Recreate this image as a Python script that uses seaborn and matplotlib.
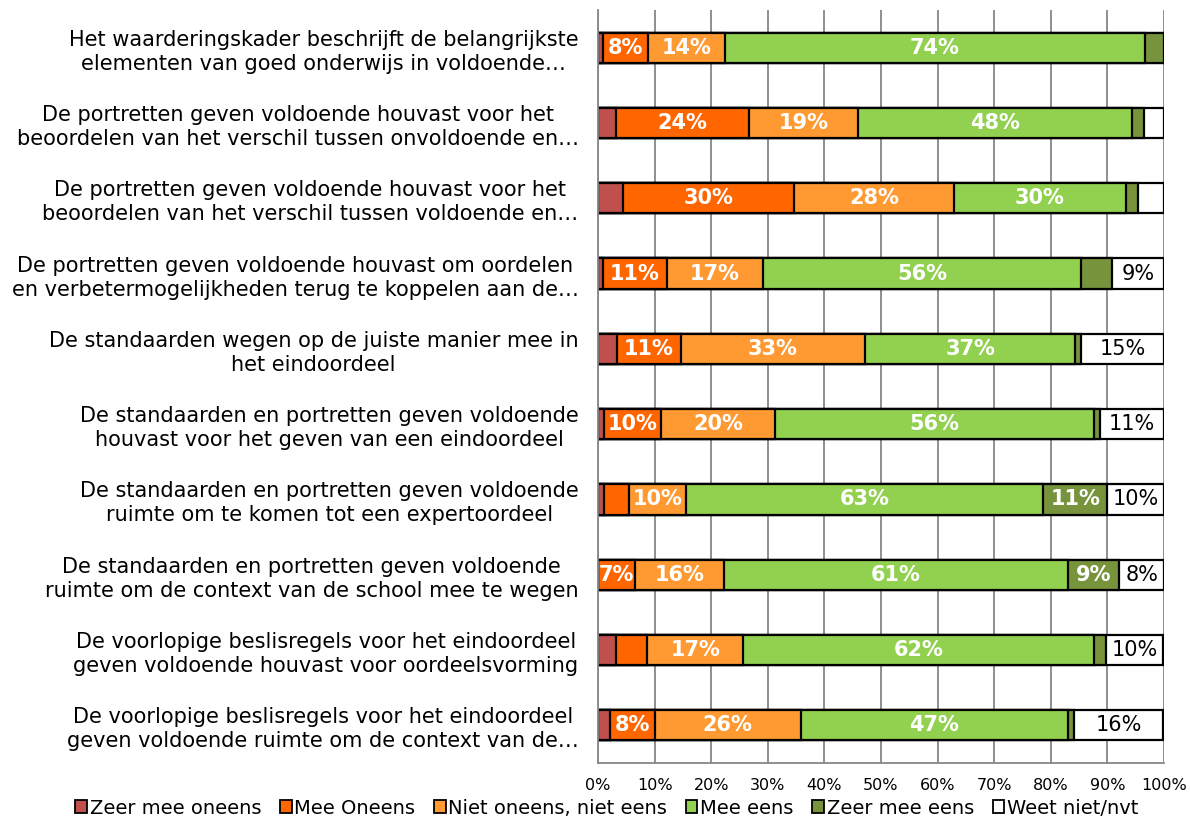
import numpy as np
import matplotlib
matplotlib.use("Agg")
import matplotlib.pyplot as plt
from matplotlib.patches import Patch
import seaborn as sns

# vragen (y-as)
vragen = [
    "Het waarderingskader beschrijft de belangrijkste\nelementen van goed onderwijs in voldoende…",
    "De portretten geven voldoende houvast voor het\nbeoordelen van het verschil tussen onvoldoende en…",
    "De portretten geven voldoende houvast voor het\nbeoordelen van het verschil tussen voldoende en…",
    "De portretten geven voldoende houvast om oordelen\nen verbetermogelijkheden terug te koppelen aan de…",
    "De standaarden wegen op de juiste manier mee in\nhet eindoordeel",
    "De standaarden en portretten geven voldoende\nhouvast voor het geven van een eindoordeel",
    "De standaarden en portretten geven voldoende\nruimte om te komen tot een expertoordeel",
    "De standaarden en portretten geven voldoende\nruimte om de context van de school mee te wegen",
    "De voorlopige beslisregels voor het eindoordeel\ngeven voldoende houvast voor oordeelsvorming",
    "De voorlopige beslisregels voor het eindoordeel\ngeven voldoende ruimte om de context van de…",
]

# percentages per antwoordcategorie
zeer_oneens = [0.9, 3.2, 4.5, 0.9, 3.4, 1.0, 1.0, 0.0, 3.2, 2.1]
oneens = [7.9, 23.5, 30.2, 11.3, 11.2, 10.1, 4.5, 6.6, 5.5, 7.9]
neutraal = [13.6, 19.2, 28.2, 16.9, 32.6, 20.2, 10.1, 15.6, 17.0, 25.8]
eens = [74.2, 48.4, 30.3, 56.3, 37.1, 56.4, 63.1, 60.9, 61.9, 47.2]
zeer_eens = [3.4, 2.2, 2.2, 5.5, 1.0, 1.0, 11.2, 9.0, 2.2, 1.1]
weet_niet = [0.0, 3.5, 4.6, 9.1, 14.7, 11.3, 10.1, 7.9, 10.1, 15.8]

categorieen = ["Zeer mee oneens", "Mee Oneens", "Niet oneens, niet eens",
               "Mee eens", "Zeer mee eens", "Weet niet/nvt"]
kleuren = ["#C0504D", "#FF6600", "#FF9A33", "#92D050", "#77933C", "#FFFFFF"]

series = [zeer_oneens, oneens, neutraal, eens, zeer_eens, weet_niet]
data = np.array(series)
cum = np.cumsum(data, axis=0)

sns.set_style("white")
plt.rcParams['font.family'] = ['DejaVu Sans']
plt.rcParams['text.color'] = 'black'
plt.rcParams['xtick.color'] = 'black'
plt.rcParams['ytick.color'] = 'black'

fig = plt.figure(figsize=(11.9, 8.21), dpi=100)
ax = fig.add_axes([598 / 1190, 1 - 763 / 821, (1164 - 598) / 1190, (763 - 10) / 821])

# gestapelde balken: cumulatieve totalen van achter naar voren tekenen
for i in range(len(series) - 1, -1, -1):
    sns.barplot(x=cum[i], y=vragen, orient="y", color=kleuren[i],
                edgecolor="black", linewidth=1.6, width=0.4, saturation=1,
                ax=ax)

# datalabels
for i, s in enumerate(series):
    start = cum[i] - data[i]
    for j, v in enumerate(s):
        if v < 6:
            continue
        wit = kleuren[i] == "#FFFFFF"
        ax.text(start[j] + v / 2, j, f"{round(v)}%", ha="center", va="center",
                fontsize=15, color="black" if wit else "white",
                fontweight="normal" if wit else "bold", clip_on=True)

ax.set_xlim(0, 100)
ax.set_ylim(9.5, -0.5)
ax.set_xticks(np.arange(0, 101, 10))
ax.set_xticklabels([f"{t}%" for t in range(0, 101, 10)], fontsize=11.5)
ax.set_xlabel("")
ax.set_ylabel("")
ax.xaxis.grid(True, color="#878787", linewidth=1.3)
ax.yaxis.grid(False)
ax.set_axisbelow(True)

for kant in ["top", "right"]:
    ax.spines[kant].set_visible(False)
for kant in ["left", "bottom"]:
    ax.spines[kant].set_color("#878787")
    ax.spines[kant].set_linewidth(1.3)

ax.tick_params(axis="x", direction="out", length=5, color="#878787", width=1.3,
               pad=6, labelcolor="black")
ax.tick_params(axis="y", which="major", length=0, pad=14, labelsize=15,
               labelcolor="black")
ax.set_yticks(np.arange(-0.5, 10, 1), minor=True)
ax.tick_params(axis="y", which="minor", direction="out", length=5, color="#878787", width=1.3)
for lab in ax.get_yticklabels():
    lab.set_multialignment("center")
    lab.set_linespacing(1.25)

handles = [Patch(facecolor=k, edgecolor="black", linewidth=1.3) for k in kleuren]
fig.legend(handles, categorieen, loc="center", bbox_to_anchor=(0.51, 1 - 808 / 821),
           ncol=6, frameon=False, fontsize=14, handlelength=0.6, handleheight=0.6,
           handletextpad=0.15, columnspacing=0.95, labelcolor="black")

fig.savefig("out.png", dpi=100)
